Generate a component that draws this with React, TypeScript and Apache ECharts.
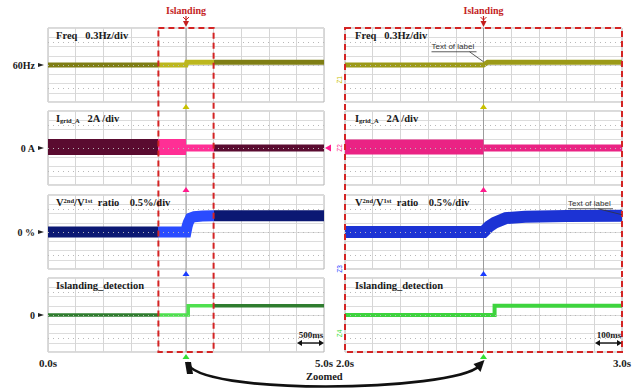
import React, { useEffect, useRef } from "react";
import * as echarts from "echarts";

// ---------- time axes ----------
const leftTimeRange = [0, 5];
const rightTimeRange = [2, 3];
const leftTimeStep = 0.5;
const rightTimeStep = 0.1;
const leftTimeLabels = ["0.0s", "5.0s"];
const rightTimeLabels = ["2.0s", "3.0s"];
const islandingTime = 2.5;
const zoomWindow = [2.0, 3.0];

// ---------- panels ----------
const panelTitles = [
  "{b|Freq}   {b|0.3Hz/div}",
  "{b|I}{sub|grid_A}   {b|2A /div}",
  "{b|V}{sup|2nd}{b|/V}{sup|1st}{b|  ratio    0.5%/div}",
  "{b|Islanding_detection}",
];
const refLabels = ["60Hz", "0 A", "0 %", "0"];
const refCenters = [60, 0, 0, 0];
const perDiv = [0.3, 2, 0.5, 1];
const probeTags = ["Z1", "Z2", "Z3", "Z4"];
const annotationText = "Text of label";
const scaleBars = ["500ms", "100ms"];
const islandingText = "Islanding";
const zoomedText = "Zoomed";

// ---------- signals (time s, value) ----------
const freqTime = [0, 2.5, 2.515, 5.0];
const freqHz = [60.0, 60.0, 60.09, 60.09];

const currentPreTime = [0, 2.5];
const currentPreA = [0.2, 0.2];
const currentPostTime = [2.5, 5.0];
const currentPostA = [0, 0];

const ratioTime = [0, 2.5, 2.52, 2.54, 2.58, 2.65, 2.8, 3.0, 5.0];
const ratioPct = [0, 0, 0.3, 0.5, 0.75, 0.83, 0.86, 0.88, 0.88];

const detectTime = [0, 2.54, 2.54, 5.0];
const detectLevel = [0, 0, 1, 1];

// ---------- colours ----------
const leftColors = [
  ["#7f7e14", "#bcb71e"],
  ["#5a0b30", "#ff2f95"],
  ["#0b1873", "#2a4cff"],
  ["#2f7d2f", "#4fe04f"],
];
const rightColors = ["#9c9a18", "#ea2384", "#1c33d4", "#3ed43e"];
const markerColors = ["#c8c000", "#ff1a8c", "#1a3cff", "#33dd33"];

const SERIF = '"Liberation Serif", "DejaVu Serif", serif';

// geometric clipping of a polyline to a time window (keeps thick strokes inside the panel)
function clipTo(t: number[], v: number[], a: number, b: number): number[][] {
  const out: number[][] = [];
  for (let i = 0; i < t.length; i++) {
    if (i > 0) {
      const t0 = t[i - 1], t1 = t[i];
      for (const edge of [a, b]) {
        if ((t0 < edge && t1 > edge) || (t0 > edge && t1 < edge)) {
          const f = (edge - t0) / (t1 - t0);
          out.push([edge, v[i - 1] + f * (v[i] - v[i - 1])]);
        }
      }
    }
    if (t[i] >= a && t[i] <= b) out.push([t[i], v[i]]);
  }
  return out;
}

export default function App() {
  const ref = useRef<HTMLDivElement>(null);

  useEffect(() => {
    document.body.style.margin = "0";
    const chart = echarts.init(ref.current!, null, { renderer: "svg" });

    const tops = [28, 111, 195, 278];
    const height = 74;
    const sides = [
      { left: 48, width: 276, range: leftTimeRange, step: leftTimeStep, labels: leftTimeLabels },
      { left: 345, width: 277, range: rightTimeRange, step: rightTimeStep, labels: rightTimeLabels },
    ];

    const grids: any[] = [];
    const xAxes: any[] = [];
    const yAxes: any[] = [];
    sides.forEach((sd, s) => {
      for (let k = 0; k < 4; k++) {
        const idx = s * 4 + k;
        grids.push({
          left: sd.left, top: tops[k], width: sd.width, height,
          show: true, borderColor: "#b4b4b4", borderWidth: 1, backgroundColor: "#ffffff",
        });
        xAxes.push({
          type: "value", gridIndex: idx, min: sd.range[0], max: sd.range[1], interval: sd.step,
          axisLine: { show: false }, axisTick: { show: false },
          axisLabel: {
            show: k === 3, margin: 5, color: "#222", fontFamily: SERIF, fontWeight: "bold", fontSize: 11,
            showMinLabel: true, showMaxLabel: true,
            formatter: (v: number) =>
              Math.abs(v - sd.range[0]) < 1e-6 ? sd.labels[0] : Math.abs(v - sd.range[1]) < 1e-6 ? sd.labels[1] : "",
          },
          splitLine: { show: true, lineStyle: { color: "#d6d6d6", width: 1 } },
        });
        yAxes.push({
          type: "value", gridIndex: idx, min: -4, max: 4, interval: 1,
          axisLine: { show: false }, axisTick: { show: false }, axisLabel: { show: false },
          splitLine: { show: true, lineStyle: { color: "#dcdcdc", width: 1 } },
        });
      }
    });

    const toDiv = (k: number, v: number) => (v - refCenters[k]) / perDiv[k];
    const mk = (idx: number, k: number, t: number[], v: number[], width: number, color?: string) => {
      const ls: any = { width, cap: "butt", join: "miter" };
      if (color) ls.color = color;
      const range = sides[idx < 4 ? 0 : 1].range;
      return {
        type: "line", xAxisIndex: idx, yAxisIndex: idx, silent: true, symbol: "none", showSymbol: false,
        data: clipTo(t, v.map((x) => toDiv(k, x)), range[0], range[1]), lineStyle: ls, z: 3, clip: true,
      };
    };

    const series: any[] = [];
    const visualMaps: any[] = [];
    const addLeft = (k: number, t: number[], v: number[], width: number) => {
      const si = series.length;
      series.push(mk(k, k, t, v, width));
      visualMaps.push({
        type: "piecewise", show: false, seriesIndex: si, dimension: 0,
        pieces: [
          { lt: zoomWindow[0], color: leftColors[k][0] },
          { gte: zoomWindow[0], lte: zoomWindow[1], color: leftColors[k][1] },
          { gt: zoomWindow[1], color: leftColors[k][0] },
        ],
      });
    };
    addLeft(0, freqTime, freqHz, 5);
    addLeft(1, currentPreTime, currentPreA, 16);
    addLeft(1, currentPostTime, currentPostA, 7);
    addLeft(2, ratioTime, ratioPct, 11);
    addLeft(3, detectTime, detectLevel, 3.5);

    series.push(mk(4, 0, freqTime, freqHz, 5, rightColors[0]));
    series.push(mk(5, 1, currentPreTime, currentPreA, 15, rightColors[1]));
    series.push(mk(5, 1, currentPostTime, currentPostA, 7, rightColors[1]));
    series.push(mk(6, 2, ratioTime, ratioPct, 12, rightColors[2]));
    series.push(mk(7, 3, detectTime, detectLevel, 4, rightColors[3]));

    for (let idx = 0; idx < 8; idx++) {
      series.push({
        type: "line", xAxisIndex: idx, yAxisIndex: idx, silent: true, symbol: "none",
        data: [], z: 1,
        markLine: {
          silent: true, symbol: "none", label: { show: false },
          lineStyle: { color: "#b8b8b8", type: [1, 4], width: 1 },
          data: [{ yAxis: 2.5 }, { yAxis: -2.5 }, { yAxis: 0 }],
        },
      });
    }

    chart.setOption({
      animation: false,
      backgroundColor: "#ffffff",
      grid: grids, xAxis: xAxes, yAxis: yAxes, series, visualMap: visualMaps,
    });

    const P = (g: number, x: number, y: number) => chart.convertToPixel({ gridIndex: g }, [x, y]) as number[];
    const g: any[] = [];
    const txt = (x: number, y: number, text: string, opts: any = {}) => ({
      type: "text", x, y, z: 20,
      style: {
        text, fill: opts.fill || "#1a1a1a",
        font: opts.font || `bold 10.5px ${SERIF}`,
        align: opts.align || "left", textAlign: opts.align || "left",
        verticalAlign: opts.va || "middle", textVerticalAlign: opts.va || "middle",
        rich: opts.rich,
      },
      rotation: opts.rotation || 0,
    });

    for (let s = 0; s < 2; s++) {
      const base = s * 4;
      const xT = P(base, islandingTime, 0)[0];
      const yTop = P(base, islandingTime, 4)[1];
      const yBot = P(base + 3, islandingTime, -4)[1];
      g.push({ type: "line", z: 1, shape: { x1: xT, y1: yTop, x2: xT, y2: yBot }, style: { stroke: "#9c9c9c", lineWidth: 1 } });
      for (let k = 0; k < 4; k++) {
        const idx = base + k;
        const pb = P(idx, islandingTime, -4)[1];
        const pt = P(idx, sides[s].range[0], 4);
        g.push({
          type: "polygon", z: 15,
          shape: { points: [[xT - 3.5, pb + 7], [xT + 3.5, pb + 7], [xT, pb + 2]] },
          style: { fill: markerColors[k] },
        });
        g.push(txt(pt[0] + (s === 0 ? 8 : 10), pt[1] + 7, panelTitles[k], {
          rich: {
            b: { fontFamily: SERIF, fontWeight: "bold", fontSize: 10.5, fill: "#1a1a1a" },
            sub: { fontFamily: SERIF, fontWeight: "bold", fontSize: 6.5, fill: "#1a1a1a", verticalAlign: "bottom", padding: [4, 0, 0, 0] },
            sup: { fontFamily: SERIF, fontWeight: "bold", fontSize: 6.5, fill: "#1a1a1a", verticalAlign: "top", padding: [0, 0, 4, 0] },
          },
        }));
      }
      g.push(txt(xT, 10, islandingText, { align: "center", fill: "#c41e1e", font: `bold 10px ${SERIF}` }));
      g.push({ type: "line", z: 20, shape: { x1: xT, y1: 16, x2: xT, y2: 24 }, style: { stroke: "#c41e1e", lineWidth: 1.2 } });
      g.push({ type: "polygon", z: 20, shape: { points: [[xT - 3, 21], [xT + 3, 21], [xT, 27]] }, style: { fill: "#c41e1e" } });
      g.push({ type: "line", z: 20, shape: { x1: xT - 3, y1: 17, x2: xT, y2: 20 }, style: { stroke: "#c41e1e", lineWidth: 1 } });
      g.push({ type: "line", z: 20, shape: { x1: xT + 3, y1: 17, x2: xT, y2: 20 }, style: { stroke: "#c41e1e", lineWidth: 1 } });
      const br = P(base + 3, sides[s].range[1], -4);
      const ay = br[1] - 9;
      g.push(txt(br[0] - 13, ay - 8, scaleBars[s], { align: "center", font: `bold 9px ${SERIF}` }));
      g.push({ type: "line", z: 20, shape: { x1: br[0] - 25, y1: ay, x2: br[0] - 2, y2: ay }, style: { stroke: "#111", lineWidth: 1.4 } });
      g.push({ type: "polygon", z: 20, shape: { points: [[br[0] - 27, ay], [br[0] - 22, ay - 3], [br[0] - 22, ay + 3]] }, style: { fill: "#111" } });
      g.push({ type: "polygon", z: 20, shape: { points: [[br[0], ay], [br[0] - 5, ay - 3], [br[0] - 5, ay + 3]] }, style: { fill: "#111" } });
    }

    for (let k = 0; k < 4; k++) {
      const c = P(k, 0, 0);
      g.push(txt(35, c[1], refLabels[k], { align: "right", font: `bold 10px ${SERIF}` }));
      g.push({ type: "polygon", z: 20, shape: { points: [[38, c[1] - 2], [38, c[1] + 2], [44, c[1]]] }, style: { fill: "#222" } });
    }
    {
      const c = P(1, leftTimeRange[1], 0);
      g.push({ type: "polygon", z: 20, shape: { points: [[c[0] + 1, c[1]], [c[0] + 7, c[1] - 3.5], [c[0] + 7, c[1] + 3.5]] }, style: { fill: markerColors[1] } });
    }
    const tagOffsets = [-1.6, 0, -4, -2];
    for (let k = 0; k < 4; k++) {
      const c = P(4 + k, rightTimeRange[0], tagOffsets[k]);
      g.push(txt(c[0] - 6, c[1], probeTags[k], { align: "center", font: `6.5px "Liberation Sans", sans-serif`, fill: markerColors[k], rotation: Math.PI / 2 }));
    }

    const boxes = [
      [P(0, zoomWindow[0], 4), P(3, zoomWindow[1], -4)],
      [P(4, rightTimeRange[0], 4), P(7, rightTimeRange[1], -4)],
    ];
    boxes.forEach(([a, b]) => {
      g.push({
        type: "rect", z: 18,
        shape: { x: a[0], y: a[1], width: b[0] - a[0], height: b[1] - a[1] },
        style: { fill: "none", stroke: "#d42424", lineWidth: 2, lineDash: [6, 4] },
      });
    });

    {
      const a = P(4, islandingTime, toDiv(0, 60.04));
      const lx = a[0] - 52, ly = a[1] - 17;
      g.push(txt(lx, ly, annotationText, { font: `8px "Liberation Sans", sans-serif`, fill: "#333" }));
      g.push({ type: "line", z: 20, shape: { x1: lx, y1: ly + 5, x2: lx + 45, y2: ly + 5 }, style: { stroke: "#333", lineWidth: 0.8 } });
      g.push({ type: "line", z: 20, shape: { x1: lx + 38, y1: ly + 5, x2: a[0], y2: a[1] - 2 }, style: { stroke: "#333", lineWidth: 0.8 } });
      const b = P(6, rightTimeRange[1], toDiv(2, 0.88));
      const bx = b[0] - 54, by = b[1] - 12;
      g.push(txt(bx, by, annotationText, { font: `8px "Liberation Sans", sans-serif`, fill: "#333" }));
      g.push({ type: "line", z: 20, shape: { x1: bx, y1: by + 5, x2: bx + 45, y2: by + 5 }, style: { stroke: "#333", lineWidth: 0.8 } });
      g.push({ type: "line", z: 20, shape: { x1: bx + 30, y1: by + 5, x2: b[0], y2: b[1] - 1 }, style: { stroke: "#333", lineWidth: 0.8 } });
    }

    {
      const xs = P(3, islandingTime, -4);
      const xe = P(7, islandingTime, -4);
      const sx = xs[0] + 1, sy = xs[1] + 10;
      const ex = xe[0] - 4, ey = xe[1] + 14;
      g.push({
        type: "bezierCurve", z: 20,
        shape: { x1: sx, y1: sy, cpx1: sx + 8, cpy1: sy + 34, cpx2: ex - 28, cpy2: ey + 26, x2: ex, y2: ey },
        style: { stroke: "#111", lineWidth: 2.6, fill: "none" },
      });
      g.push({ type: "polygon", z: 20, shape: { points: [[sx - 2, sy], [sx + 4, sy], [sx + 6, sy + 12], [sx, sy + 12]] }, style: { fill: "#111" } });
      g.push({ type: "polygon", z: 20, shape: { points: [[ex + 5, ey - 6], [ex - 6, ey - 2], [ex + 1, ey + 6]] }, style: { fill: "#111" } });
      g.push(txt((sx + ex) / 2 - 9, 376, zoomedText, { align: "center", font: `bold 10.5px ${SERIF}` }));
    }

    chart.setOption({ graphic: { elements: g } });

    return () => chart.dispose();
  }, []);

  return <div ref={ref} style={{ position: "fixed", left: 0, top: 0, width: 640, height: 389 }} />;
}
